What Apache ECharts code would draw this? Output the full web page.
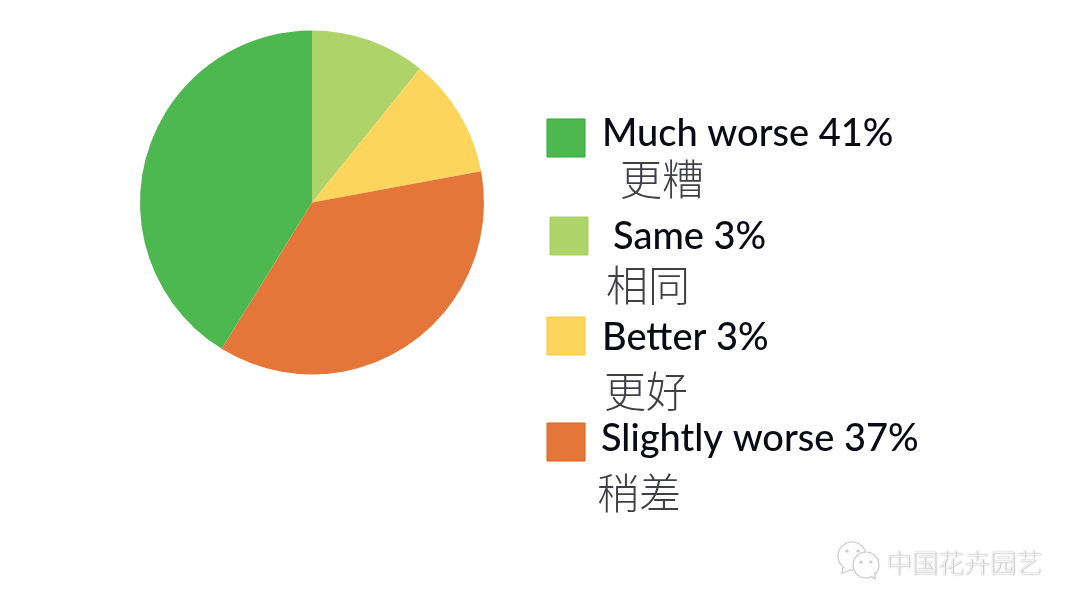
<!DOCTYPE html>
<html>
<head>
<meta charset="utf-8">
<style>
  html, body { margin: 0; padding: 0; background: #fff; }
  #chart { width: 1080px; height: 611px; }
</style>
<script src="https://cdn.jsdelivr.net/npm/echarts@6/dist/echarts.min.js"></script>
</head>
<body>
<div id="chart"></div>
<script>
// slice shares as drawn (the printed labels say 3% but the slices are bigger)
const categories = ['Same', 'Better', 'Slightly worse', 'Much worse'];
const sliceValues = [10.8, 11.3, 36.7, 41.2];
const sliceColors = ['#AED469', '#FDD45C', '#E4763A', '#4DB84F'];

// legend texts, in the order they appear
const legendEn = ['Much worse 41%', 'Same 3%', 'Better 3%', 'Slightly worse 37%'];
const legendZh = ['更糟', '相同', '更好', '稍差'];
const legendFill = ['#4DB84F', '#AED469', '#FDD45C', '#E4763A'];
const legendEdge = ['#2FA733', '#A5D05C', '#FDC93F', '#DD5F1E'];
const watermark = '中国花卉园艺';

// legend layout: [swatch x, swatch y, en x, en mid y, zh x, zh mid y]
const legendPos = [
  [547, 119, 602, 134, 620, 179],
  [550, 217, 613, 237, 606, 285],
  [547, 317, 602, 338, 604, 391],
  [547, 423, 601, 439, 597, 493]
];

const chart = echarts.init(document.getElementById('chart'));

const graphic = [];
legendEn.forEach((txt, i) => {
  const p = legendPos[i];
  graphic.push({
    type: 'rect',
    shape: { x: p[0], y: p[1], width: 38, height: 38 },
    style: { fill: legendFill[i], stroke: legendEdge[i], lineWidth: 1 }
  });
  graphic.push({
    type: 'text', x: p[2], y: p[3],
    style: { text: txt, font: '500 38px Lato', fill: '#0a0a14', textVerticalAlign: 'middle' }
  });
  graphic.push({
    type: 'text', x: p[4], y: p[5],
    style: { text: legendZh[i], font: '300 42px "Noto Sans CJK SC"', fill: '#3f3f46', textVerticalAlign: 'middle' }
  });
});

// wechat style mark + name, bottom right
const wmStroke = '#c9c9c9';
graphic.push(
  { type: 'circle', shape: { cx: 852, cy: 556, r: 14 }, style: { fill: '#fff', stroke: wmStroke, lineWidth: 1.2 } },
  { type: 'polyline', shape: { points: [[843, 567], [842, 573], [851, 570]] }, style: { fill: '#fff', stroke: wmStroke, lineWidth: 1.2 } },
  { type: 'circle', shape: { cx: 866, cy: 565, r: 13 }, style: { fill: '#fff', stroke: wmStroke, lineWidth: 1.2 } },
  { type: 'polyline', shape: { points: [[871, 576], [875, 579], [875, 572]] }, style: { fill: '#fff', stroke: wmStroke, lineWidth: 1.2 } },
  { type: 'circle', shape: { cx: 847, cy: 551, r: 1.6 }, style: { fill: wmStroke } },
  { type: 'circle', shape: { cx: 858, cy: 551, r: 1.6 }, style: { fill: wmStroke } },
  { type: 'circle', shape: { cx: 861, cy: 562, r: 1.6 }, style: { fill: wmStroke } },
  { type: 'circle', shape: { cx: 871, cy: 562, r: 1.6 }, style: { fill: wmStroke } },
  {
    type: 'text', x: 886, y: 563,
    style: {
      text: watermark, font: '300 26px "Noto Sans CJK SC"', fill: '#f4f4f4',
      textVerticalAlign: 'middle', textShadowColor: '#8a8a8a', textShadowBlur: 1.5,
      textShadowOffsetX: 0.5, textShadowOffsetY: 0.5
    }
  }
);

chart.setOption({
  backgroundColor: '#ffffff',
  animation: false,
  series: [{
    type: 'pie',
    center: [312, 202.5],
    radius: [0, 172],
    startAngle: 90,
    clockwise: true,
    label: { show: false },
    labelLine: { show: false },
    silent: true,
    data: categories.map((name, i) => ({
      name: name,
      value: sliceValues[i],
      itemStyle: { color: sliceColors[i] }
    }))
  }],
  graphic: graphic
});
</script>
</body>
</html>
